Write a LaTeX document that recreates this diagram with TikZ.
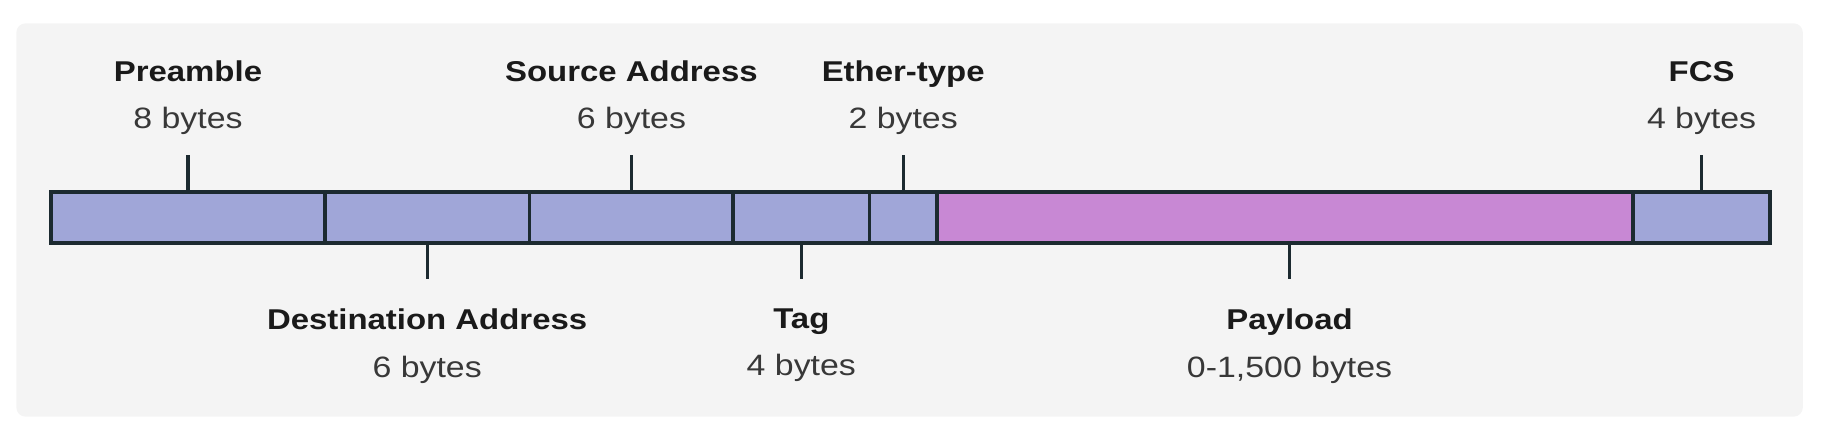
\documentclass[tikz,border=0pt]{standalone}
\usepackage{fontspec}
\setmainfont{Liberation Sans}[FakeStretch=1.15]
\usepackage{tikz}
\usetikzlibrary{positioning}
\usepackage{xcolor}
\definecolor{framebg}{HTML}{F4F4F4}
\definecolor{fieldblue}{HTML}{A0A6D8}
\definecolor{payloadpink}{HTML}{C888D4}
\definecolor{edgecol}{HTML}{1C2A30}
\definecolor{headblack}{HTML}{1A1A1A}
\definecolor{bytegray}{HTML}{383838}

\begin{document}
\begin{tikzpicture}[
    x=0.1mm, y=0.1mm,
    node distance=0mm,
    every node/.style={
        inner sep=0pt,
        outer sep=0pt
    },
    field/.style={
        draw=edgecol,
        line width=0.9pt,
        fill=fieldblue,
        minimum height=4.4mm
    },
    lbl/.style={
        align=center,
        text=bytegray,
        font=\fontsize{7.2}{11.7}\selectfont
    },
    tick/.style={draw=edgecol, line width=0.75pt}
]

\useasboundingbox (0,0) rectangle (1568,377);
\fill[framebg, rounded corners=0.8mm] (14,19) rectangle (1549,357);

% frame fields
\node[field, minimum width=23.5mm, anchor=north west] (pre) at (44,212) {};
\node[field, minimum width=17.6mm, right=of pre] (dst) {};
\node[field, minimum width=17.5mm, right=of dst] (src) {};
\node[field, minimum width=11.7mm, right=of src] (tag) {};
\node[field, minimum width=5.8mm, right=of tag] (eth) {};
\node[field, minimum width=59.8mm, fill=payloadpink, right=of eth] (pay) {};
\node[field, minimum width=11.8mm, right=of pay] (fcs) {};

% labels above
\node[lbl, above=4.9mm of pre] (preL) {\textcolor{headblack}{\fontsize{7}{11.7}\selectfont\textbf{Preamble}}\\8 bytes};
\node[lbl, above=4.9mm of src] (srcL) {\textcolor{headblack}{\fontsize{7}{11.7}\selectfont\textbf{Source Address}}\\6 bytes};
\node[lbl, above=4.9mm of eth] (ethL) {\textcolor{headblack}{\fontsize{7}{11.7}\selectfont\textbf{Ether-type}}\\2 bytes};
\node[lbl, above=4.9mm of fcs] (fcsL) {\textcolor{headblack}{\fontsize{7}{11.7}\selectfont\textbf{FCS}}\\4 bytes};

% labels below
\node[lbl, below=5.6mm of dst] (dstL) {\textcolor{headblack}{\fontsize{7}{11.7}\selectfont\textbf{Destination Address}}\\6 bytes};
\node[lbl, below=5.6mm of tag] (tagL) {\textcolor{headblack}{\fontsize{7}{11.7}\selectfont\textbf{Tag}}\\4 bytes};
\node[lbl, below=5.6mm of pay, xshift=0.4mm] (payL) {\textcolor{headblack}{\fontsize{7}{11.7}\selectfont\textbf{Payload}}\\0-1,500 bytes};

% ticks
\draw[tick, shorten >=1.7mm] (pre) -- (preL);
\draw[tick, shorten >=1.7mm] (src) -- (srcL);
\draw[tick, shorten >=1.7mm] (eth) -- (ethL);
\draw[tick, shorten >=1.7mm] (fcs) -- (fcsL);
\draw[tick, shorten >=2.5mm] (dst) -- (dstL);
\draw[tick, shorten >=2.5mm] (tag) -- (tagL);
\draw[tick, shorten >=2.5mm] (pay.south -| payL) -- (payL);

\end{tikzpicture}
\end{document}
